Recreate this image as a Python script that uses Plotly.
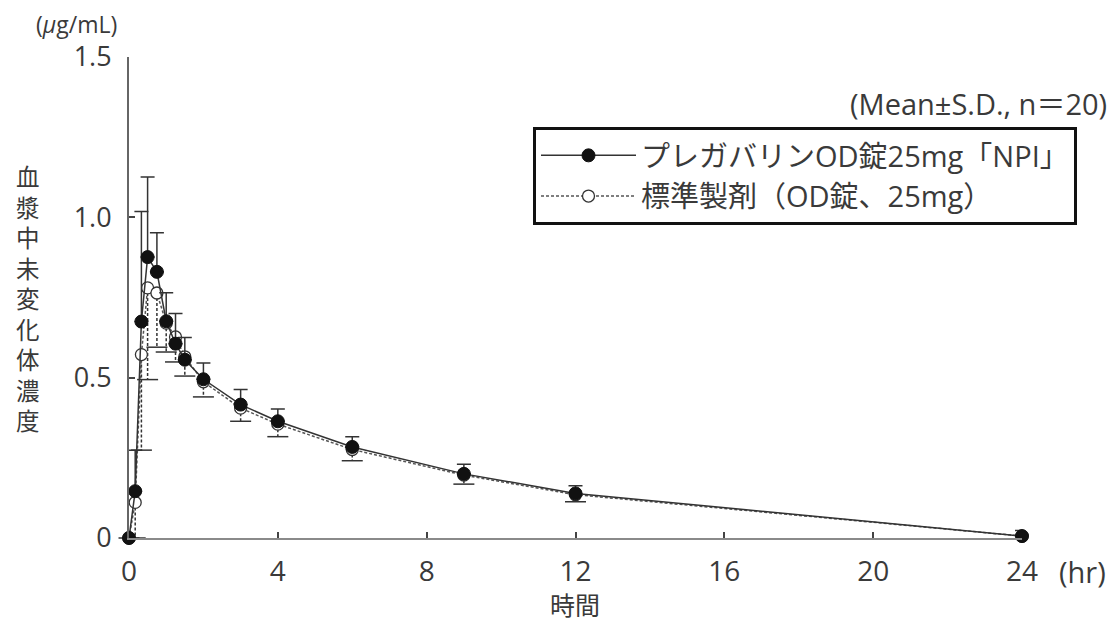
import plotly.graph_objects as go

# ---- data ----
time_hr = [0, 1/6, 1/3, 0.5, 0.75, 1, 1.25, 1.5, 2, 3, 4, 6, 9, 12, 24]
test_mean = [0, 0.146, 0.675, 0.876, 0.830, 0.676, 0.606, 0.556, 0.495, 0.416, 0.364, 0.284, 0.200, 0.139, 0.006]
test_sd = [0, 0.128, 0.343, 0.250, 0.122, 0.089, 0.094, 0.069, 0.051, 0.047, 0.038, 0.032, 0.030, 0.024, 0.017]
ref_mean = [0, 0.111, 0.572, 0.780, 0.764, 0.670, 0.627, 0.565, 0.487, 0.405, 0.355, 0.276, 0.196, 0.135, 0.006]
ref_sd = [0, 0.111, 0.298, 0.286, 0.169, 0.090, 0.078, 0.060, 0.047, 0.041, 0.039, 0.035, 0.028, 0.022, 0.018]

x_ticks = [0, 4, 8, 12, 16, 20, 24]
y_ticks = [0, 0.5, 1.0, 1.5]
y_ticktext = ["0", "0.5", "1.0", "1.5"]

name_test = "プレガバリンOD錠25mg「NPI」"
name_ref = "標準製剤（OD錠、25mg）"
y_title = "血漿中未変化体濃度"

FONT = "Open Sans, Noto Sans CJK JP, sans-serif"
TXT = "#3a3a3a"
LINE = "#333333"

fig = go.Figure()

# reference product: dashed lower SD bars (stems + caps)
stem_x, stem_y = [], []
for t, m, s in zip(time_hr, ref_mean, ref_sd):
    stem_x += [t, t, None]
    stem_y += [m, m - s, None]
fig.add_trace(go.Scatter(x=stem_x, y=stem_y, mode="lines", showlegend=False,
                         hoverinfo="skip", cliponaxis=False,
                         line=dict(color=LINE, width=1.5, dash="3px,2px")))
fig.add_trace(go.Scatter(x=time_hr, y=[m - s for m, s in zip(ref_mean, ref_sd)],
                         mode="markers", showlegend=False, hoverinfo="skip", cliponaxis=False,
                         marker=dict(symbol="line-ew", size=15,
                                     line=dict(color=LINE, width=1.5))))

# reference product line
fig.add_trace(go.Scatter(x=time_hr, y=ref_mean, mode="lines+markers", name=name_ref,
                         legendrank=2, cliponaxis=False,
                         line=dict(color="#555555", width=1.5, dash="3px,2px"),
                         marker=dict(symbol="circle", size=12, color="white",
                                     line=dict(color=LINE, width=1.3))))

# test product with upper SD bars
fig.add_trace(go.Scatter(x=time_hr, y=test_mean, mode="lines+markers", name=name_test,
                         legendrank=1, cliponaxis=False,
                         line=dict(color=LINE, width=1.5),
                         marker=dict(symbol="circle", size=13, color="#111111",
                                     line=dict(color="#111111", width=1)),
                         error_y=dict(type="data", symmetric=False, array=test_sd,
                                      arrayminus=[0] * len(test_sd),
                                      color=LINE, thickness=1.5, width=7)))

# page body has an 8px margin; work in screen pixels and convert
OFF = 8
W, H = 1112, 614
ml, mr, mt, mb = 129 - OFF, 98, 57 - OFF, 84
pw = W - ml - mr
ph = H - mt - mb


def py(screen_y):
    return (H - mb - (screen_y - OFF)) / ph


def px(screen_x):
    return (screen_x - OFF - ml) / pw


annotations = [
    dict(text="<br>".join(y_title), xref="paper", yref="paper", x=px(28), y=py(299),
         xanchor="center", yanchor="middle", showarrow=False,
         font=dict(size=23.5, color=TXT, family=FONT)),
    dict(text="(<i>μ</i>g/mL)", xref="paper", yref="paper", x=px(76), y=py(24),
         xanchor="center", yanchor="middle", showarrow=False,
         font=dict(size=23, color=TXT, family=FONT)),
    dict(text="(Mean±S.D., n＝20)", xref="paper", yref="paper", x=px(1109), y=py(104),
         xanchor="right", yanchor="middle", showarrow=False,
         font=dict(size=29, color=TXT, family=FONT)),
    dict(text="(hr)", xref="paper", yref="paper", x=px(1082), y=py(571),
         xanchor="center", yanchor="middle", showarrow=False,
         font=dict(size=29, color=TXT, family=FONT)),
    dict(text="時間", xref="paper", yref="paper", x=px(575), y=py(605),
         xanchor="center", yanchor="middle", showarrow=False,
         font=dict(size=25, color=TXT, family=FONT)),
]

fig.update_layout(
    width=W, height=H,
    margin=dict(l=ml, r=mr, t=mt, b=mb, pad=0),
    paper_bgcolor="white", plot_bgcolor="white",
    font=dict(family=FONT, color=TXT, size=26),
    showlegend=True,
    legend=dict(x=px(533), y=py(127), xanchor="left", yanchor="top",
                bgcolor="white", bordercolor="#111111", borderwidth=3,
                font=dict(size=29, color=TXT, family=FONT),
                itemwidth=95, tracegroupgap=0),
    annotations=annotations,
    xaxis=dict(range=[0, 24], tickvals=x_ticks, ticktext=[str(v) for v in x_ticks],
               showline=True, linecolor="#8a8a8a", linewidth=2, showgrid=False, zeroline=False,
               ticks="inside", ticklen=6, tickwidth=1.5, tickcolor="#444444",
               tickfont=dict(size=28, color=TXT, family=FONT), ticklabelstandoff=7),
    yaxis=dict(range=[0, 1.5], tickvals=y_ticks, ticktext=y_ticktext,
               showline=True, linecolor="#666666", linewidth=2, showgrid=False, zeroline=False,
               ticks="inside", ticklen=6, tickwidth=1.5, tickcolor="#444444",
               tickfont=dict(size=27, color=TXT, family=FONT), ticklabelstandoff=10),
)

fig.write_html("out.html")
